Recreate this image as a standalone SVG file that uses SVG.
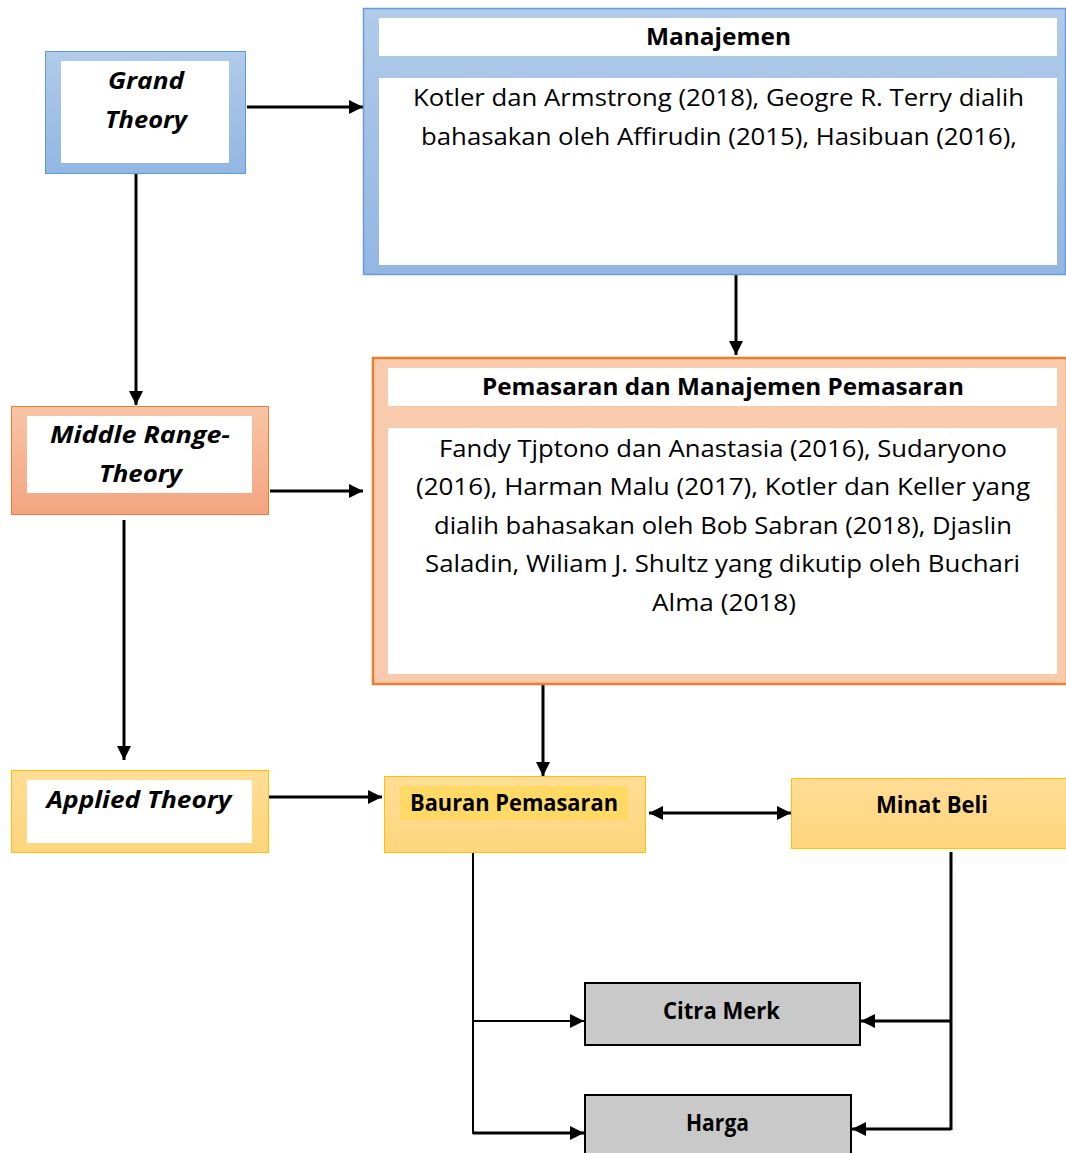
<svg xmlns="http://www.w3.org/2000/svg" width="1066" height="1153" viewBox="0 0 1066 1153">
<defs>
<linearGradient id="gBlue" x1="0" y1="0" x2="0" y2="1"><stop offset="0" stop-color="#b1cbe9"/><stop offset="1" stop-color="#93b6e3"/></linearGradient>
<linearGradient id="gPeach" x1="0" y1="0" x2="0" y2="1"><stop offset="0" stop-color="#f8c4a6"/><stop offset="1" stop-color="#f4a47f"/></linearGradient>
<linearGradient id="gYellow" x1="0" y1="0" x2="0" y2="1"><stop offset="0" stop-color="#ffdd96"/><stop offset="1" stop-color="#ffd57c"/></linearGradient>
<marker id="arr" viewBox="0 0 10 10" refX="10" refY="5" markerWidth="16" markerHeight="14" markerUnits="userSpaceOnUse" orient="auto-start-reverse"><path d="M0,0 L10,5 L0,10 Z" fill="#000"/></marker>
</defs>
<style>
.t{font-family:"Open Sans","Noto Sans","Liberation Sans",sans-serif;fill:#000;text-anchor:middle}
.bi{font-weight:bold;font-style:italic;font-size:24px}
.b{font-weight:bold;font-size:23.5px}
.n{font-size:23.5px}
.c{fill:none;stroke:#000;stroke-width:3}
.c2{fill:none;stroke:#000;stroke-width:2}
.w{fill:#fff}
</style>
<g id="connectors">
<path class="c" d="M247,107 H363" marker-end="url(#arr)"/>
<path class="c" d="M136,173 V405" marker-end="url(#arr)"/>
<path class="c" d="M736,274 V355" marker-end="url(#arr)"/>
<path class="c" d="M270,491 H363" marker-end="url(#arr)"/>
<path class="c" d="M124,520 V760" marker-end="url(#arr)"/>
<path class="c" d="M268,797 H382" marker-end="url(#arr)"/>
<path class="c" d="M543,684 V776" marker-end="url(#arr)"/>
<path class="c" d="M649,813 H791" marker-start="url(#arr)" marker-end="url(#arr)"/>
<path class="c2" d="M473,852 V1134"/>
<path class="c2" d="M473,1021 H584" marker-end="url(#arr)"/>
<path class="c" d="M473,1133 H584" marker-end="url(#arr)"/>
<path class="c" d="M951,852 V1130"/>
<path class="c" d="M951,1021 H861" marker-end="url(#arr)"/>
<path class="c" d="M951,1129 H852" marker-end="url(#arr)"/>
</g>
<g id="grand-theory">
<rect x="45.5" y="51.5" width="200" height="122" fill="url(#gBlue)" stroke="#5b9bd5" stroke-width="1"/>
<rect x="61" y="61" width="168" height="102" class="w"/>
<text class="t bi" x="146" y="89" textLength="76" lengthAdjust="spacingAndGlyphs">Grand</text>
<text class="t bi" x="146" y="128" textLength="82" lengthAdjust="spacingAndGlyphs">Theory</text>
</g>
<g id="manajemen">
<rect x="363.5" y="8.5" width="702" height="266" fill="url(#gBlue)" stroke="#6a9bd6" stroke-width="1.5"/>
<rect x="379" y="18" width="678" height="38" class="w"/>
<rect x="379" y="78" width="678" height="187" class="w"/>
<text class="t b" x="718.5" y="45" textLength="145" lengthAdjust="spacingAndGlyphs">Manajemen</text>
<text class="t n" x="718.5" y="106" textLength="611" lengthAdjust="spacingAndGlyphs">Kotler dan Armstrong (2018), Geogre R. Terry dialih</text>
<text class="t n" x="719" y="145" textLength="596" lengthAdjust="spacingAndGlyphs">bahasakan oleh Affirudin (2015), Hasibuan (2016),</text>
</g>
<g id="middle-range-theory">
<rect x="11.5" y="406.5" width="257" height="108" fill="url(#gPeach)" stroke="#ed7d31" stroke-width="1"/>
<rect x="27" y="416" width="225" height="77" class="w"/>
<text class="t bi" x="140" y="443" textLength="180" lengthAdjust="spacingAndGlyphs">Middle Range-</text>
<text class="t bi" x="140.5" y="482" textLength="83" lengthAdjust="spacingAndGlyphs">Theory</text>
</g>
<g id="pemasaran">
<rect x="373" y="358" width="694" height="326" fill="#f8cbad" stroke="#ed7d31" stroke-width="2.5"/>
<rect x="388" y="368" width="669" height="38" class="w"/>
<rect x="388" y="428" width="669" height="246" class="w"/>
<text class="t b" x="723" y="395" textLength="482" lengthAdjust="spacingAndGlyphs">Pemasaran dan Manajemen Pemasaran</text>
<text class="t n" x="723" y="457" textLength="568" lengthAdjust="spacingAndGlyphs">Fandy Tjptono dan Anastasia (2016), Sudaryono</text>
<text class="t n" x="723" y="495" textLength="614" lengthAdjust="spacingAndGlyphs">(2016), Harman Malu (2017), Kotler dan Keller yang</text>
<text class="t n" x="723" y="534" textLength="578" lengthAdjust="spacingAndGlyphs">dialih bahasakan oleh Bob Sabran (2018), Djaslin</text>
<text class="t n" x="722.5" y="572" textLength="595" lengthAdjust="spacingAndGlyphs">Saladin, Wiliam J. Shultz yang dikutip oleh Buchari</text>
<text class="t n" x="724" y="611" textLength="144" lengthAdjust="spacingAndGlyphs">Alma (2018)</text>
</g>
<g id="applied-theory">
<rect x="11.5" y="770.5" width="257" height="82" fill="url(#gYellow)" stroke="#ffc000" stroke-width="1"/>
<rect x="27" y="780" width="225" height="63" class="w"/>
<text class="t bi" x="139" y="808" textLength="185" lengthAdjust="spacingAndGlyphs">Applied Theory</text>
</g>
<g id="bauran-pemasaran">
<rect x="384.5" y="776.5" width="261" height="76" fill="url(#gYellow)" stroke="#ffc000" stroke-width="1"/>
<rect x="400" y="786" width="228" height="34" fill="#ffd966"/>
<text class="t b" x="514" y="811" textLength="208" lengthAdjust="spacingAndGlyphs">Bauran Pemasaran</text>
</g>
<g id="minat-beli">
<rect x="791.5" y="778.5" width="275" height="70" fill="url(#gYellow)" stroke="#ffc000" stroke-width="1"/>
<text class="t b" x="932" y="813" textLength="112" lengthAdjust="spacingAndGlyphs">Minat Beli</text>
</g>
<g id="citra-merk">
<rect x="585" y="983" width="275" height="62" fill="#c9c9c9" stroke="#000" stroke-width="2"/>
<text class="t b" x="721.5" y="1019" textLength="117" lengthAdjust="spacingAndGlyphs">Citra Merk</text>
</g>
<g id="harga">
<rect x="585" y="1095" width="266" height="70" fill="#c9c9c9" stroke="#000" stroke-width="2"/>
<text class="t b" x="717.5" y="1131" textLength="63" lengthAdjust="spacingAndGlyphs">Harga</text>
</g>
</svg>
